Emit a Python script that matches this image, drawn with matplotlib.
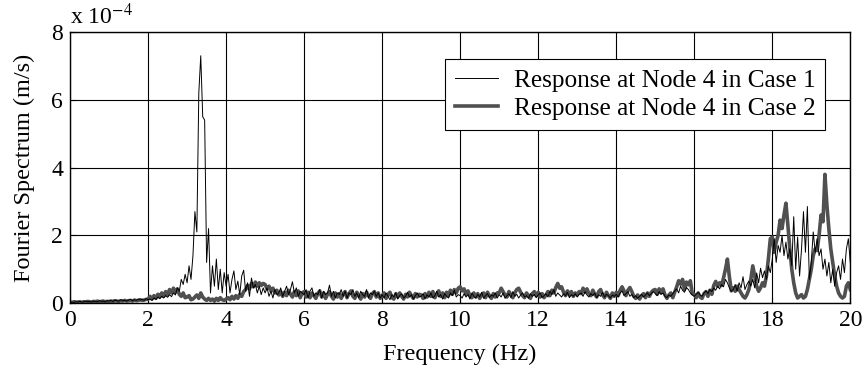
import matplotlib
matplotlib.use('Agg')
import matplotlib.pyplot as plt
import numpy as np

# frequency axis, 0.05 Hz steps
freq = np.round(np.arange(0, 20.001, 0.05), 2)

# Fourier spectrum amplitudes, in units of 1e-4 m/s (one row per Hz)
case1 = [
    0.02, 0.03, 0.02, 0.04, 0.03, 0.05, 0.03, 0.04, 0.06, 0.04, 0.05, 0.03, 0.06, 0.05, 0.04, 0.07, 0.05, 0.06, 0.04, 0.07,
    0.06, 0.08, 0.05, 0.09, 0.07, 0.06, 0.10, 0.07, 0.08, 0.06, 0.09, 0.11, 0.07, 0.10, 0.08, 0.12, 0.09, 0.11, 0.08, 0.13,
    0.10, 0.12, 0.08, 0.15, 0.11, 0.18, 0.13, 0.20, 0.15, 0.22, 0.17, 0.25, 0.19, 0.30, 0.24, 0.45, 0.35, 0.70, 0.55, 0.85,
    0.60, 1.10, 0.70, 1.40, 2.70, 2.10, 6.20, 7.30, 5.50, 5.40, 1.20, 2.20, 0.30, 1.10, 0.50, 1.30, 0.40, 1.00, 0.30, 0.90,
    0.50, 0.85, 0.30, 0.70, 0.95, 0.40, 0.65, 0.25, 0.80, 0.97, 0.35, 0.60, 0.20, 0.74, 0.45, 0.55, 0.30, 0.50, 0.25, 0.45,
    0.30, 0.45, 0.20, 0.35, 0.15, 0.40, 0.25, 0.30, 0.45, 0.20, 0.35, 0.50, 0.25, 0.40, 0.63, 0.30, 0.45, 0.20, 0.35, 0.30,
    0.25, 0.40, 0.15, 0.35, 0.45, 0.20, 0.30, 0.25, 0.40, 0.15, 0.35, 0.25, 0.30, 0.53, 0.20, 0.35, 0.15, 0.30, 0.25, 0.40,
    0.20, 0.35, 0.15, 0.30, 0.25, 0.40, 0.20, 0.30, 0.15, 0.35, 0.25, 0.20, 0.40, 0.15, 0.30, 0.25, 0.35, 0.20, 0.30, 0.15,
    0.25, 0.15, 0.30, 0.20, 0.10, 0.25, 0.18, 0.30, 0.12, 0.22, 0.28, 0.15, 0.20, 0.32, 0.18, 0.25, 0.12, 0.22, 0.30, 0.18,
    0.20, 0.28, 0.12, 0.25, 0.18, 0.30, 0.15, 0.22, 0.35, 0.18, 0.25, 0.12, 0.28, 0.20, 0.15, 0.30, 0.22, 0.38, 0.18, 0.25,
    0.22, 0.15, 0.28, 0.18, 0.25, 0.12, 0.30, 0.20, 0.15, 0.26, 0.18, 0.32, 0.14, 0.22, 0.28, 0.16, 0.24, 0.20, 0.30, 0.15,
    0.25, 0.18, 0.30, 0.14, 0.22, 0.28, 0.16, 0.34, 0.20, 0.26, 0.15, 0.24, 0.30, 0.18, 0.22, 0.14, 0.28, 0.20, 0.25, 0.16,
    0.24, 0.30, 0.16, 0.22, 0.28, 0.18, 0.35, 0.25, 0.40, 0.20, 0.30, 0.24, 0.18, 0.28, 0.22, 0.32, 0.16, 0.25, 0.20, 0.28,
    0.18, 0.26, 0.30, 0.20, 0.34, 0.24, 0.18, 0.28, 0.22, 0.30, 0.16, 0.25, 0.20, 0.32, 0.18, 0.26, 0.22, 0.15, 0.24, 0.20,
    0.26, 0.18, 0.30, 0.36, 0.22, 0.28, 0.34, 0.20, 0.26, 0.16, 0.22, 0.14, 0.20, 0.26, 0.18, 0.24, 0.30, 0.22, 0.28, 0.34,
    0.28, 0.22, 0.34, 0.26, 0.30, 0.20, 0.16, 0.24, 0.20, 0.28, 0.36, 0.42, 0.30, 0.50, 0.38, 0.32, 0.46, 0.40, 0.30, 0.24,
    0.20, 0.26, 0.32, 0.24, 0.20, 0.30, 0.36, 0.28, 0.40, 0.34, 0.45, 0.38, 0.50, 0.42, 0.55, 0.48, 0.70, 0.60, 0.45, 0.35,
    0.40, 0.55, 0.35, 0.60, 0.45, 0.78, 0.40, 0.55, 0.65, 0.50, 0.70, 0.45, 0.89, 0.60, 1.03, 0.75, 0.95, 0.70, 1.10, 0.90,
    1.30, 1.90, 1.20, 1.70, 1.50, 2.00, 1.40, 1.80, 1.30, 1.60, 1.10, 2.55, 1.00, 1.95, 0.80, 1.60, 2.70, 1.50, 2.85, 0.70,
    1.20, 2.10, 1.50, 1.90, 1.40, 1.60, 1.00, 1.30, 0.80, 1.20, 0.60, 1.00, 0.50, 0.90, 1.10, 0.70, 1.30, 0.90, 1.60, 1.90,
    1.20,
]

case2 = [
    0.03, 0.02, 0.04, 0.03, 0.03, 0.04, 0.02, 0.04, 0.03, 0.05, 0.04, 0.03, 0.05, 0.04, 0.06, 0.04, 0.05, 0.06, 0.04, 0.05,
    0.05, 0.06, 0.05, 0.07, 0.06, 0.05, 0.07, 0.06, 0.08, 0.06, 0.07, 0.08, 0.06, 0.09, 0.07, 0.08, 0.10, 0.08, 0.09, 0.11,
    0.12, 0.20, 0.12, 0.22, 0.14, 0.26, 0.18, 0.30, 0.20, 0.34, 0.24, 0.40, 0.30, 0.44, 0.32, 0.42, 0.26, 0.20, 0.30, 0.16,
    0.18, 0.22, 0.10, 0.12, 0.18, 0.24, 0.14, 0.30, 0.18, 0.12, 0.08, 0.14, 0.08, 0.12, 0.06, 0.14, 0.08, 0.16, 0.10, 0.08,
    0.12, 0.16, 0.10, 0.20, 0.12, 0.22, 0.14, 0.26, 0.20, 0.34, 0.40, 0.52, 0.42, 0.58, 0.48, 0.62, 0.50, 0.60, 0.52, 0.58,
    0.55, 0.42, 0.50, 0.36, 0.44, 0.30, 0.38, 0.24, 0.34, 0.20, 0.32, 0.22, 0.38, 0.26, 0.18, 0.34, 0.22, 0.36, 0.16, 0.30,
    0.34, 0.18, 0.32, 0.16, 0.30, 0.22, 0.14, 0.28, 0.36, 0.18, 0.30, 0.14, 0.26, 0.34, 0.20, 0.12, 0.30, 0.18, 0.28, 0.14,
    0.26, 0.34, 0.16, 0.28, 0.36, 0.20, 0.14, 0.32, 0.22, 0.12, 0.28, 0.18, 0.32, 0.22, 0.14, 0.28, 0.34, 0.18, 0.30, 0.14,
    0.22, 0.30, 0.14, 0.26, 0.32, 0.16, 0.12, 0.28, 0.18, 0.30, 0.20, 0.12, 0.26, 0.18, 0.32, 0.22, 0.14, 0.28, 0.18, 0.26,
    0.24, 0.14, 0.28, 0.18, 0.32, 0.20, 0.34, 0.16, 0.26, 0.36, 0.20, 0.30, 0.16, 0.32, 0.22, 0.38, 0.26, 0.40, 0.30, 0.44,
    0.48, 0.36, 0.42, 0.26, 0.36, 0.22, 0.16, 0.30, 0.18, 0.28, 0.14, 0.24, 0.30, 0.16, 0.32, 0.22, 0.14, 0.28, 0.18, 0.30,
    0.30, 0.44, 0.34, 0.24, 0.18, 0.34, 0.26, 0.16, 0.30, 0.40, 0.44, 0.32, 0.22, 0.16, 0.30, 0.22, 0.14, 0.28, 0.34, 0.22,
    0.32, 0.18, 0.28, 0.16, 0.24, 0.34, 0.22, 0.38, 0.30, 0.46, 0.58, 0.44, 0.48, 0.32, 0.22, 0.36, 0.24, 0.34, 0.20, 0.30,
    0.24, 0.34, 0.28, 0.44, 0.32, 0.42, 0.28, 0.22, 0.38, 0.26, 0.18, 0.34, 0.40, 0.24, 0.16, 0.32, 0.22, 0.14, 0.30, 0.20,
    0.32, 0.22, 0.38, 0.48, 0.36, 0.22, 0.38, 0.46, 0.34, 0.20, 0.14, 0.24, 0.12, 0.22, 0.28, 0.16, 0.30, 0.20, 0.32, 0.38,
    0.40, 0.26, 0.42, 0.30, 0.42, 0.24, 0.14, 0.24, 0.30, 0.16, 0.32, 0.48, 0.66, 0.56, 0.70, 0.40, 0.62, 0.54, 0.66, 0.28,
    0.26, 0.16, 0.30, 0.18, 0.14, 0.28, 0.34, 0.20, 0.38, 0.26, 0.52, 0.64, 0.50, 0.60, 0.52, 0.74, 1.00, 1.30, 0.78, 0.36,
    0.45, 0.35, 0.50, 0.40, 0.30, 0.20, 0.15, 0.25, 0.40, 0.70, 1.10, 0.80, 0.50, 0.35, 0.45, 0.60, 0.50, 0.80, 1.30, 1.90,
    1.95, 1.50, 1.80, 2.00, 2.45, 2.20, 2.60, 2.95, 2.30, 1.60, 1.00, 0.60, 0.30, 0.15, 0.20, 0.25, 0.15, 0.20, 0.40, 0.70,
    1.00, 1.40, 1.60, 1.55, 2.00, 2.60, 2.40, 3.80, 2.90, 2.20, 1.60, 1.20, 0.80, 0.50, 0.30, 0.20, 0.15, 0.20, 0.50, 0.60,
    0.40,
]

labels = ['Response at Node 4 in Case 1', 'Response at Node 4 in Case 2']

plt.rcParams['font.family'] = ['Liberation Serif', 'DejaVu Serif']
plt.rcParams['mathtext.fontset'] = 'stix'

fig = plt.figure(figsize=(8.65, 3.77), dpi=100)
ax = fig.add_axes([0.081, 0.196, 0.902, 0.719])

ax.plot(freq, case1, color='black', lw=0.7, label=labels[0], zorder=3)
ax.plot(freq, case2, color='#505050', lw=2.6, label=labels[1], zorder=2)

ax.set_xlim(0, 20)
ax.set_ylim(0, 8)
ax.set_xticks(np.arange(0, 21, 2))
ax.set_yticks(np.arange(0, 9, 2))
ax.grid(True, color='black', lw=0.8, ls='-')
ax.set_axisbelow(True)
ax.tick_params(direction='in', labelsize=17, length=4, pad=5)
for s in ax.spines.values():
    s.set_linewidth(1.0)

ax.set_xlabel('Frequency (Hz)', fontsize=17.5, labelpad=9)
ax.set_ylabel('Fourier Spectrum (m/s)', fontsize=17.5, labelpad=12)
ax.text(0.0, 1.01, r'x 10$^{-4}$', transform=ax.transAxes, fontsize=17,
        ha='left', va='bottom')

leg = ax.legend(loc='upper right', bbox_to_anchor=(0.968, 0.90), fontsize=18.2,
                fancybox=False, framealpha=1, edgecolor='black',
                handlelength=1.7, borderpad=0.4, labelspacing=0.2,
                handletextpad=0.6, borderaxespad=0)
leg.get_frame().set_linewidth(0.8)

fig.savefig('out.png', dpi=100)
